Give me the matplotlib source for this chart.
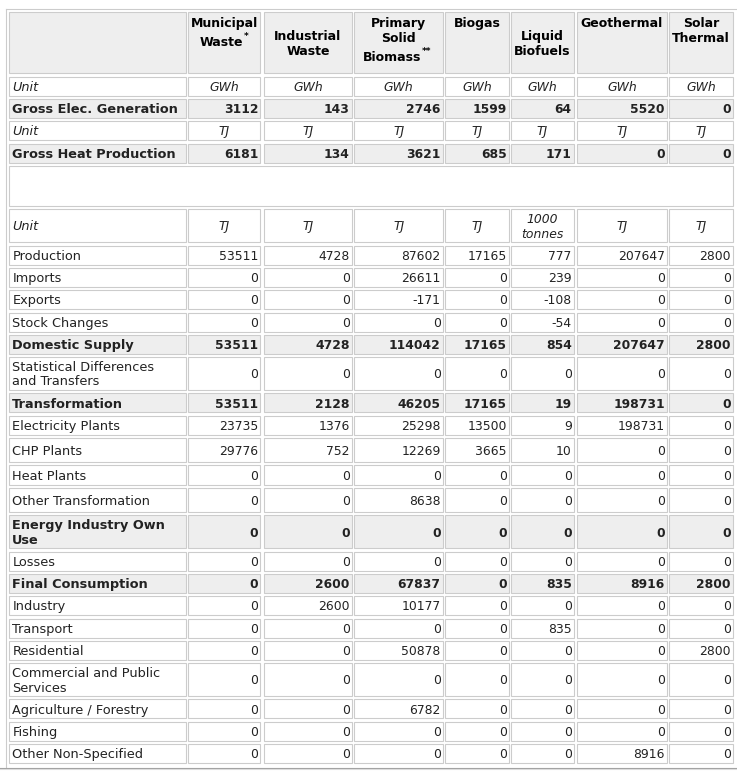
import matplotlib
matplotlib.use("Agg")
import matplotlib.pyplot as plt
from matplotlib.patches import Rectangle

# ── Data ──────────────────────────────────────────────────────────────────────
header_lines = [["Municipal", "Waste"], ["Industrial", "Waste"],
                ["Primary", "Solid", "Biomass"], ["Biogas"],
                ["Liquid", "Biofuels"], ["Geothermal"], ["Solar", "Thermal"]]
header_marks = ["*", "", "**", "", "", "", ""]

elec_units = ["GWh", "GWh", "GWh", "GWh", "GWh", "GWh", "GWh"]
gross_elec = [3112, 143, 2746, 1599, 64, 5520, 0]
heat_units = ["TJ", "TJ", "TJ", "TJ", "TJ", "TJ", "TJ"]
gross_heat = [6181, 134, 3621, 685, 171, 0, 0]
balance_units = ["TJ", "TJ", "TJ", "TJ", "1000\ntonnes", "TJ", "TJ"]

row_labels = ["Production", "Imports", "Exports", "Stock Changes",
              "Domestic Supply", "Statistical Differences\nand Transfers",
              "Transformation", "Electricity Plants", "CHP Plants",
              "Heat Plants", "Other Transformation",
              "Energy Industry Own\nUse", "Losses", "Final Consumption",
              "Industry", "Transport", "Residential",
              "Commercial and Public\nServices", "Agriculture / Forestry",
              "Fishing", "Other Non-Specified"]
bold_labels = ["Domestic Supply", "Transformation",
               "Energy Industry Own\nUse", "Final Consumption"]

municipal_waste = [53511, 0, 0, 0, 53511, 0, 53511, 23735, 29776, 0, 0,
                   0, 0, 0, 0, 0, 0, 0, 0, 0, 0]
industrial_waste = [4728, 0, 0, 0, 4728, 0, 2128, 1376, 752, 0, 0,
                    0, 0, 2600, 2600, 0, 0, 0, 0, 0, 0]
solid_biomass = [87602, 26611, -171, 0, 114042, 0, 46205, 25298, 12269, 0, 8638,
                 0, 0, 67837, 10177, 0, 50878, 0, 6782, 0, 0]
biogas = [17165, 0, 0, 0, 17165, 0, 17165, 13500, 3665, 0, 0,
          0, 0, 0, 0, 0, 0, 0, 0, 0, 0]
liquid_biofuels = [777, 239, -108, -54, 854, 0, 19, 9, 10, 0, 0,
                   0, 0, 835, 0, 835, 0, 0, 0, 0, 0]
geothermal = [207647, 0, 0, 0, 207647, 0, 198731, 198731, 0, 0, 0,
              0, 0, 8916, 0, 0, 0, 0, 0, 0, 8916]
solar_thermal = [2800, 0, 0, 0, 2800, 0, 0, 0, 0, 0, 0,
                 0, 0, 2800, 0, 0, 2800, 0, 0, 0, 0]
balance = [municipal_waste, industrial_waste, solid_biomass, biogas,
           liquid_biofuels, geothermal, solar_thermal]

# ── Layout (pixels) ───────────────────────────────────────────────────────────
W, H = 737, 771
lefts = [9.3, 188.3, 264.3, 354.5, 445.3, 511.3, 577.3, 669.3]
rights = [185.7, 260.3, 351.7, 442.7, 508.7, 573.7, 666.7, 732.7]
GAP = 3.3
GRAY, WHITE, EDGE, INK = "#eeeeee", "#ffffff", "#cccccc", "#222222"
FS, FS_NUM, FS_HEAD = 9.3, 8.9, 9.0
header_valign = ["top", "center", "top", "top", "center", "top", "top"]
balance_heights = [19, 19, 19, 19, 19, 33, 19, 19, 24, 19.5, 24,
                   33, 19, 19, 19, 19, 19, 33, 19, 19, 19]

fig = plt.figure(figsize=(W / 100, H / 100), dpi=100)
ax = fig.add_axes([0, 0, 1, 1])
ax.set_xlim(0, W)
ax.set_ylim(H, 0)
ax.axis("off")
renderer = fig.canvas.get_renderer()


def cell(x0, x1, top, h, bg):
    ax.add_patch(Rectangle((x0, top), x1 - x0, h, facecolor=bg,
                           edgecolor=EDGE, linewidth=0.8))


def lines_text(x, cy, text, ha, size, weight="normal", style="normal"):
    parts = text.split("\n")
    pitch = 14.5
    y0 = cy - pitch * (len(parts) - 1) / 2
    for k, p in enumerate(parts):
        ax.text(x, y0 + k * pitch + 4.6, p, ha=ha, va="baseline",
                fontsize=size, fontweight=weight, style=style, color=INK)


# outer frame
ax.plot([6.3, 6.3], [9, 767], color=EDGE, lw=0.8)
ax.plot([6.3, W], [9, 9], color=EDGE, lw=0.8)
ax.plot([0, W], [767.6, 767.6], color="#a0a0a0", lw=0.8)
ax.plot([0, W], [769.2, 769.2], color="#dddddd", lw=0.8)

# header row
top = 12.3
h = 61
cell(lefts[0], rights[0], top, h, GRAY)
for j, lines in enumerate(header_lines):
    cx = (lefts[j + 1] + rights[j + 1]) / 2
    cell(lefts[j + 1], rights[j + 1], top, h, GRAY)
    if header_valign[j] == "top":
        y = top + 10
    else:
        y = top + h / 2 - 15 * (len(lines) - 1) / 2
    for k, line in enumerate(lines):
        last = k == len(lines) - 1
        mark = header_marks[j] if last else ""
        if mark:
            y += 4
            mw = 3.2 * len(mark)
            t = ax.text(cx - mw, y + 4.6, line, ha="center", va="baseline",
                        fontsize=FS_HEAD, fontweight="bold", color="black")
            bb = t.get_window_extent(renderer)
            ax.text(bb.x1 + 0.5, y - 2.5, mark, ha="left", va="baseline",
                    fontsize=6.5, fontweight="bold", color="black")
        else:
            ax.text(cx, y + 4.6, line, ha="center", va="baseline",
                    fontsize=FS_HEAD, fontweight="bold", color="black")
        y += 15
top += h + GAP

# gross generation / heat blocks
for units, label, vals in [(elec_units, "Gross Elec. Generation", gross_elec),
                           (heat_units, "Gross Heat Production", gross_heat)]:
    cell(lefts[0], rights[0], top, 19, WHITE)
    lines_text(lefts[0] + 3, top + 9.5, "Unit", "left", FS, style="italic")
    for j, u in enumerate(units):
        cell(lefts[j + 1], rights[j + 1], top, 19, WHITE)
        lines_text((lefts[j + 1] + rights[j + 1]) / 2, top + 9.5, u, "center",
                   FS_NUM, style="italic")
    top += 19 + GAP
    cell(lefts[0], rights[0], top, 19, GRAY)
    lines_text(lefts[0] + 3, top + 9.5, label, "left", FS, weight="bold")
    for j, v in enumerate(vals):
        cell(lefts[j + 1], rights[j + 1], top, 19, GRAY)
        lines_text(rights[j + 1] - 2, top + 9.5, str(v), "right", FS_NUM,
                   weight="bold")
    top += 19 + GAP

# blank spacer row
cell(lefts[0], rights[-1], top, 40.2, WHITE)
top += 40.2 + GAP

# balance unit row
cell(lefts[0], rights[0], top, 33, WHITE)
lines_text(lefts[0] + 3, top + 16.5, "Unit", "left", FS, style="italic")
for j, u in enumerate(balance_units):
    cell(lefts[j + 1], rights[j + 1], top, 33, WHITE)
    lines_text((lefts[j + 1] + rights[j + 1]) / 2, top + 16.5, u, "center",
               FS_NUM, style="italic")
top += 33 + GAP

# energy balance rows
for i, label in enumerate(row_labels):
    h = balance_heights[i]
    bold = label in bold_labels
    bg = GRAY if bold else WHITE
    weight = "bold" if bold else "normal"
    cy = top + h / 2
    cell(lefts[0], rights[0], top, h, bg)
    lines_text(lefts[0] + 3, cy, label, "left", FS, weight=weight)
    for j, col in enumerate(balance):
        cell(lefts[j + 1], rights[j + 1], top, h, bg)
        lines_text(rights[j + 1] - 2, cy, str(col[i]), "right", FS_NUM,
                   weight=weight)
    top += h + GAP

fig.savefig("out.png", dpi=100)
